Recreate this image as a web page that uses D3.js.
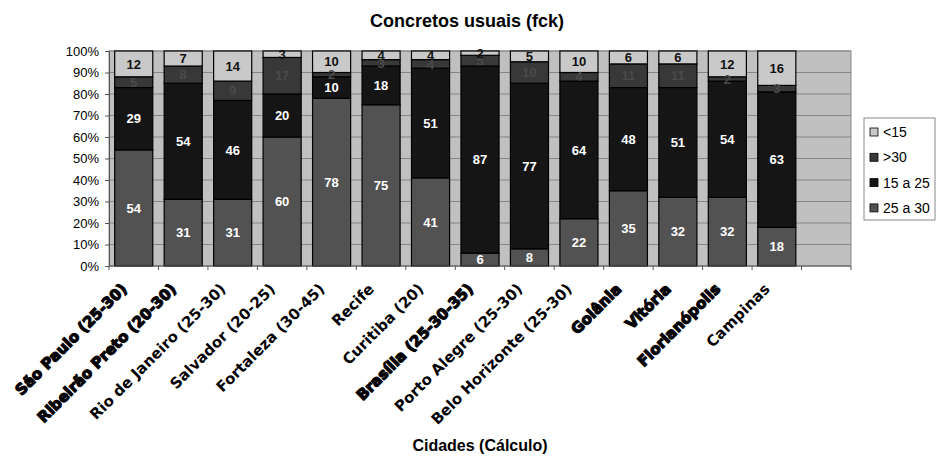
<!DOCTYPE html>
<html>
<head>
<meta charset="utf-8">
<script src="https://cdn.jsdelivr.net/npm/d3@7"></script>
<style>
  body { margin: 0; background: #fff; }
  svg { display: block; }
  .xlabel { font-family: "DejaVu Sans", Verdana, sans-serif; }
</style>
</head>
<body>
<div id="chart"></div>
<script>
// cities (last slot of the axis is left empty, like in the original)
const cities = [
    "São Paulo (25-30)", "Ribeirão Preto (20-30)", "Rio de Janeiro (25-30)",
    "Salvador (20-25)", "Fortaleza (30-45)", "Recife", "Curitiba (20)",
    "Brasília (25-30-35)", "Porto Alegre (25-30)", "Belo Horizonte (25-30)",
    "Goiânia", "Vitória", "Florianópolis", "Campinas"
];
const boldCities = ["São Paulo (25-30)", "Ribeirão Preto (20-30)", "Brasília (25-30-35)",
    "Goiânia", "Vitória", "Florianópolis"];

// series, bottom to top of the stack
const s25a30 = [54, 31, 31, 60, 78, 75, 41, 6, 8, 22, 35, 32, 32, 18];
const s15a25 = [29, 54, 46, 20, 10, 18, 51, 87, 77, 64, 48, 51, 54, 63];
const sMaior30 = [5, 8, 9, 17, 2, 3, 4, 5, 10, 4, 11, 11, 2, 3];
const sMenor15 = [12, 7, 14, 3, 10, 4, 4, 2, 5, 10, 6, 6, 12, 16];

const yTicks = [0, 10, 20, 30, 40, 50, 60, 70, 80, 90, 100];

const series = [
    { key: "25 a 30", values: s25a30, fill: "#525252", text: "#ffffff" },
    { key: "15 a 25", values: s15a25, fill: "#151515", text: "#ffffff" },
    { key: ">30", values: sMaior30, fill: "#383838", text: "#4a4a4a" },
    { key: "<15", values: sMenor15, fill: "#c9c9c9", text: "#111111" }
];
const legendOrder = ["<15", ">30", "15 a 25", "25 a 30"];

const width = 936, height = 458;
const plot = { left: 109, right: 851, top: 51, bottom: 266 };

const svg = d3.select("#chart").append("svg")
    .attr("width", width)
    .attr("height", height)
    .style("font-family", "Arial, 'Liberation Sans', sans-serif");

// table for the stack
const table = cities.map((c, i) => {
    const row = { city: c };
    series.forEach(s => row[s.key] = s.values[i]);
    return row;
});
const stacked = d3.stack().keys(series.map(s => s.key))(table);

const x = d3.scaleBand()
    .domain([...cities, ""])
    .range([plot.left, plot.right])
    .paddingInner(0.23)
    .paddingOuter(0.115);

const y = d3.scaleLinear()
    .domain([0, 100])
    .range([plot.bottom, plot.top]);

// plot background
svg.append("rect")
    .attr("x", plot.left)
    .attr("y", plot.top)
    .attr("width", plot.right - plot.left)
    .attr("height", plot.bottom - plot.top)
    .attr("fill", "#c0c0c0")
    .attr("stroke", "#8c8c8c");

// gridlines
svg.append("g")
    .selectAll("line")
    .data(yTicks.slice(1))
    .join("line")
    .attr("x1", plot.left)
    .attr("x2", plot.right)
    .attr("y1", d => y(d))
    .attr("y2", d => y(d))
    .attr("stroke", "#858585")
    .attr("stroke-width", 1);

// bars
const layers = svg.append("g")
    .selectAll("g")
    .data(stacked)
    .join("g")
    .attr("fill", (d, i) => series[i].fill);

layers.selectAll("rect")
    .data(d => d)
    .join("rect")
    .attr("x", d => x(d.data.city))
    .attr("y", d => y(d[1]))
    .attr("width", x.bandwidth())
    .attr("height", d => y(d[0]) - y(d[1]))
    .attr("stroke", "#000")
    .attr("stroke-width", 1.2);

// value labels
stacked.forEach((layer, i) => {
    svg.append("g")
        .selectAll("text")
        .data(layer)
        .join("text")
        .attr("x", d => x(d.data.city) + x.bandwidth() / 2)
        .attr("y", d => y((d[0] + d[1]) / 2))
        .attr("dy", "0.36em")
        .attr("text-anchor", "middle")
        .attr("font-size", 13)
        .attr("font-weight", "bold")
        .attr("fill", series[i].text)
        .text(d => d[1] - d[0]);
});

// y axis
const yAxis = svg.append("g")
    .attr("transform", `translate(${plot.left},0)`)
    .call(d3.axisLeft(y).tickValues(yTicks).tickFormat(d => d + "%").tickSize(4).tickPadding(6));
yAxis.select(".domain").attr("stroke", "#555");
yAxis.selectAll(".tick line").attr("stroke", "#555");
yAxis.selectAll("text")
    .attr("font-size", 13)
    .attr("font-family", "Arial, 'Liberation Sans', sans-serif")
    .attr("fill", "#000");

// x axis: ticks at the slot boundaries
const xAxis = svg.append("g");
xAxis.append("line")
    .attr("x1", plot.left).attr("x2", plot.right)
    .attr("y1", plot.bottom).attr("y2", plot.bottom)
    .attr("stroke", "#555");
xAxis.selectAll(".xtick")
    .data(d3.range(x.domain().length + 1))
    .join("line")
    .attr("class", "xtick")
    .attr("x1", i => plot.left + i * x.step())
    .attr("x2", i => plot.left + i * x.step())
    .attr("y1", plot.bottom)
    .attr("y2", plot.bottom + 4)
    .attr("stroke", "#555");

xAxis.selectAll(".xlabel")
    .data(cities)
    .join("text")
    .attr("class", "xlabel")
    .attr("transform", d => `translate(${x(d) + x.bandwidth() / 2 - 6},${plot.bottom + 24}) rotate(-45)`)
    .attr("text-anchor", "end")
    .attr("font-size", 15)
    .attr("font-weight", "bold")
    .attr("fill", "#000")
    .attr("stroke", d => boldCities.includes(d) ? "#000" : "none")
    .attr("stroke-width", 1.2)
    .text(d => d);

// title
svg.append("text")
    .attr("x", 467)
    .attr("y", 27)
    .attr("text-anchor", "middle")
    .attr("font-size", 18)
    .attr("font-weight", "bold")
    .text("Concretos usuais (fck)");

// x axis title
svg.append("text")
    .attr("x", 480)
    .attr("y", 451)
    .attr("text-anchor", "middle")
    .attr("font-size", 16)
    .attr("font-weight", "bold")
    .text("Cidades (Cálculo)");

// legend
const legend = svg.append("g").attr("transform", "translate(864,118)");
legend.append("rect")
    .attr("width", 71)
    .attr("height", 102)
    .attr("fill", "#fff")
    .attr("stroke", "#888");

const legendItems = legend.selectAll(".item")
    .data(legendOrder.map(k => series.find(s => s.key === k)))
    .join("g")
    .attr("class", "item")
    .attr("transform", (d, i) => `translate(6,${14 + i * 25.3})`);

legendItems.append("rect")
    .attr("x", 0)
    .attr("y", -4)
    .attr("width", 8)
    .attr("height", 8)
    .attr("fill", d => d.fill)
    .attr("stroke", "#000")
    .attr("stroke-width", 0.8);

legendItems.append("text")
    .attr("x", 13)
    .attr("dy", "0.35em")
    .attr("font-size", 14)
    .text(d => d.key);
</script>
</body>
</html>
